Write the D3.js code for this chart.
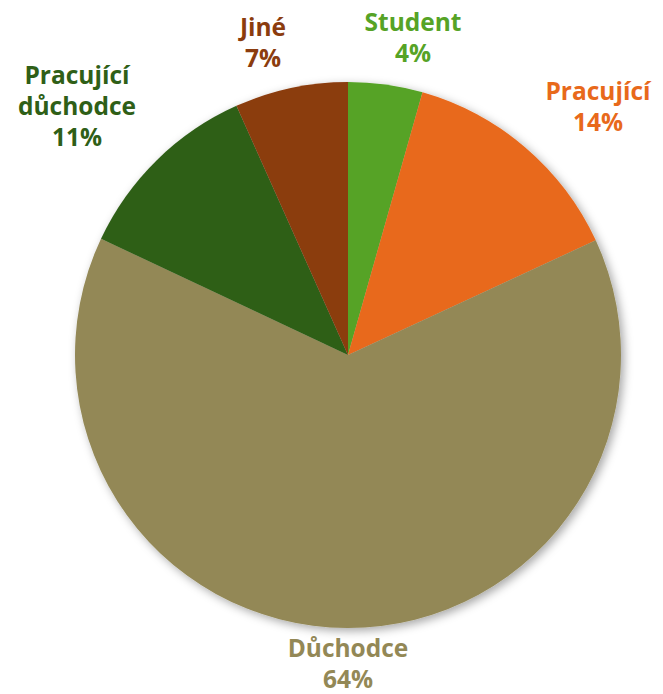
<!DOCTYPE html>
<html lang="cs">
<head>
    <meta charset="UTF-8">
    <script src="https://d3js.org/d3.v7.min.js"></script>
    <title>Pie</title>
    <style>
        body { margin: 0; background: #fff; }
        svg text { font-family: "Open Sans", "DejaVu Sans", sans-serif; font-weight: 700; font-size: 24.5px; }
    </style>
</head>
<body>
    <script>
        // data, clockwise from 12 o'clock
        const categories = ["Student", "Pracující", "Důchodce", "Pracující důchodce", "Jiné"];
        const values = [4.4, 13.7, 63.9, 11.3, 6.7];
        const labelLines = [["Student"], ["Pracující"], ["Důchodce"], ["Pracující", "důchodce"], ["Jiné"]];
        const colors = ["#56a326", "#e8691b", "#938856", "#2f5f17", "#8b3c0e"];
        // label centre x and baseline of first line
        const labelPos = [[413, 31], [598, 100], [348, 657], [77, 84], [263, 36]];

        const w = 663, h = 694;
        const cx = 348, cy = 355, r = 273;

        const svg = d3.select("body").append("svg")
            .attr("width", w)
            .attr("height", h);

        const defs = svg.append("defs");
        const f = defs.append("filter").attr("id", "shadow")
            .attr("x", "-10%").attr("y", "-10%").attr("width", "120%").attr("height", "120%");
        f.append("feDropShadow")
            .attr("dx", 3).attr("dy", 3).attr("stdDeviation", 5)
            .attr("flood-color", "#000").attr("flood-opacity", 0.35);

        const pie = d3.pie().sort(null).value(d => d);
        const arc = d3.arc().innerRadius(0).outerRadius(r);

        const g = svg.append("g")
            .attr("transform", "translate(" + cx + "," + cy + ")")
            .attr("filter", "url(#shadow)");

        g.selectAll("path")
            .data(pie(values))
            .enter()
            .append("path")
            .attr("d", arc)
            .attr("fill", (d, i) => colors[i]);

        const fmt = d => d3.format(".0f")(d) + "%";

        const labels = svg.selectAll("text.lbl")
            .data(categories)
            .enter()
            .append("text")
            .attr("class", "lbl")
            .attr("text-anchor", "middle")
            .attr("fill", (d, i) => colors[i]);

        labels.each(function(d, i) {
            const t = d3.select(this);
            const lines = labelLines[i].concat([fmt(values[i])]);
            lines.forEach((s, j) => {
                t.append("tspan")
                    .attr("x", labelPos[i][0])
                    .attr("y", labelPos[i][1] + j * 31)
                    .text(s);
            });
        });
    </script>
</body>
</html>
